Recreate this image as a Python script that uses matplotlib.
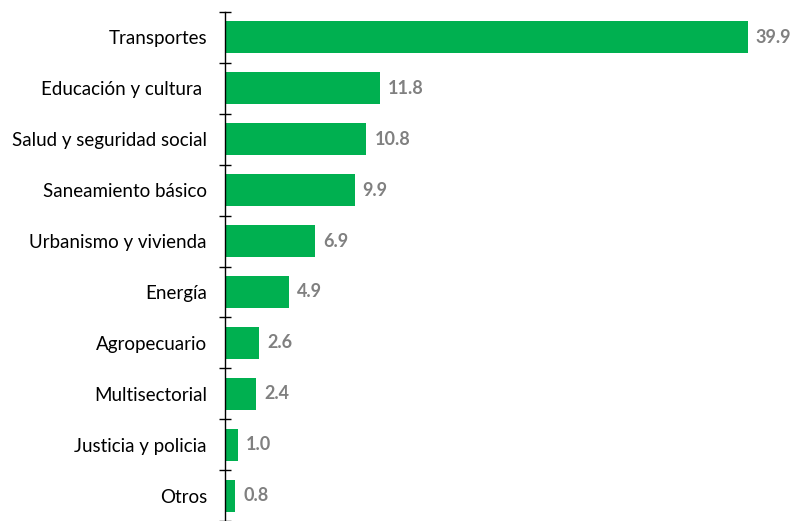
import matplotlib
matplotlib.use("Agg")
import matplotlib.pyplot as plt
import numpy as np

categories = ["Transportes", "Educación y cultura ", "Salud y seguridad social",
              "Saneamiento básico", "Urbanismo y vivienda", "Energía",
              "Agropecuario", "Multisectorial", "Justicia y policia", "Otros"]
values = [39.9, 11.8, 10.8, 9.9, 6.9, 4.9, 2.6, 2.4, 1.0, 0.8]
value_labels = ["39.9", "11.8", "10.8", "9.9", "6.9", "4.9", "2.6", "2.4", "1.0", "0.8"]

plt.rcParams['font.family'] = ['Lato', 'DejaVu Sans']

fig = plt.figure(figsize=(7.91, 5.21), dpi=100)
ax = fig.add_axes([225/791, 0.0, (783-225)/791, 1 - 12/521])

y = np.arange(len(categories))
ax.barh(y, values, height=0.63, color="#00B050")
for yi, v, lab in zip(y, values, value_labels):
    ax.text(v + 0.6, yi, lab, va="center", ha="left", fontsize=13,
            fontweight="bold", color="#808080")

ax.set_ylim(len(categories) - 0.5, -0.5)
ax.set_xlim(0, 558/13.1)

ax.set_yticks(np.arange(-0.5, len(categories), 1.0))
ax.set_yticklabels([])
ax.tick_params(axis="y", which="major", direction="inout", length=9, width=1, color="black")
ax.set_yticks(y, minor=True)
ax.set_yticklabels(categories, minor=True, fontsize=13.5, color="#000000")
ax.tick_params(axis="y", which="minor", length=0, pad=13)

ax.set_xticks([])
for s in ["top", "right", "bottom"]:
    ax.spines[s].set_visible(False)
ax.spines["left"].set_linewidth(1)

fig.savefig("out.png", dpi=100)
